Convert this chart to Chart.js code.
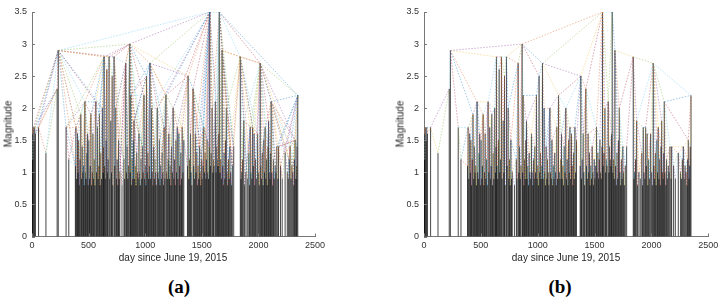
<!DOCTYPE html>
<html>
<head>
<meta charset="utf-8">
<script src="https://cdn.jsdelivr.net/npm/chart.js@4"></script>
<style>
  html, body { margin: 0; padding: 0; background: #fff; }
  body { width: 724px; height: 305px; position: relative; overflow: hidden; font-family: 'Liberation Sans', Arial, sans-serif; }
  canvas { position: absolute; top: 0; }
  .ylab { position: absolute; transform: translate(-50%, -50%) rotate(-90deg); font-size: 10px; color: #262626; white-space: nowrap; }
  .xlab { position: absolute; transform: translate(-50%, -50%); font-size: 10px; color: #262626; white-space: nowrap; }
  .cap { position: absolute; transform: translate(-50%, -50%); font-family: 'Liberation Serif', 'DejaVu Serif', serif; font-weight: bold; font-size: 19px; color: #000; }
</style>
</head>
<body>
<canvas id="chart-a" width="340" height="270" style="left:0;"></canvas>
<canvas id="chart-b" width="332" height="270" style="left:392px;"></canvas>

<div class="ylab" style="left:8px; top:124px;">Magnitude</div>
<div class="ylab" style="left:400px; top:124px;">Magnitude</div>
<div class="xlab" style="left:173px; top:257px;">day since June 19, 2015</div>
<div class="xlab" style="left:566px; top:257px;">day since June 19, 2015</div>
<div class="cap" style="left:179px; top:287px;">(a)</div>
<div class="cap" style="left:560px; top:287px;">(b)</div>

<script>
'use strict';

const days = [
  2, 6, 12, 18, 24, 30, 58, 123, 222, 232, 301, 325,
  383, 388, 394, 402, 407, 412, 418, 424, 431, 437, 443, 449, 455, 461, 467, 472, 478, 484, 490, 496,
  502, 508, 514, 520, 526, 532, 538, 544, 550, 556, 564, 570, 578, 584, 590, 596, 602, 608, 614, 622, 628, 632,
  637, 642, 648, 654, 661, 666, 672, 681, 687, 696, 702, 708, 714, 725, 731, 740, 746, 752, 758, 764, 770, 776, 795,
  812, 818, 828, 834, 840, 846, 852, 863, 868, 872, 878, 884, 890, 895, 901, 907, 913, 919, 925, 931, 938, 945, 951, 957, 963, 969, 975, 981, 989, 995,
  1001, 1006, 1012, 1018, 1024, 1030, 1036, 1042, 1048, 1056, 1062, 1068, 1074, 1080, 1086, 1092, 1098, 1107, 1113, 1119, 1125, 1131, 1137, 1143, 1150, 1156, 1162, 1168, 1174, 1183, 1190, 1196,
  1203, 1209, 1215, 1221, 1227, 1233, 1240, 1247, 1253, 1259, 1265, 1271, 1277, 1283, 1289, 1297, 1303, 1309, 1315, 1321, 1327, 1333, 1341,
  1373, 1379, 1385, 1391, 1400, 1406, 1412, 1423, 1429, 1436, 1443, 1449, 1455, 1461, 1467, 1473, 1479, 1485, 1491, 1497, 1503, 1510, 1517, 1523, 1529, 1535, 1541, 1547, 1553, 1559,
  1565, 1570, 1576, 1582, 1591, 1597, 1603, 1609, 1620, 1626, 1632, 1638, 1644, 1649, 1655, 1661, 1667, 1673, 1679, 1685, 1691, 1697, 1703, 1710, 1717, 1723, 1729, 1736, 1742, 1748, 1755, 1762, 1770, 1782,
  1840, 1846, 1852, 1860, 1870, 1878, 1890, 1902, 1915, 1922, 1928, 1935, 1942, 1949, 1955, 1962, 1968, 1975, 1982, 1993,
  2002, 2008, 2016, 2022, 2028, 2035, 2041, 2048, 2054, 2060, 2066, 2072, 2078, 2084, 2090, 2096, 2102, 2108, 2113, 2119, 2126, 2133, 2140, 2148, 2155, 2163, 2172, 2178,
  2195, 2210, 2236, 2255, 2264, 2272, 2280, 2288, 2296, 2304, 2312, 2318, 2324, 2330, 2336, 2341, 2348
];
const mags = [
  1.6, 1.2, 1.7, 1.5, 1.7, 1.6, 1.7, 1.3, 2.3, 2.9, 1.7, 1.2,
  1.1, 1.7, 0.9, 1.6, 1.0, 1.5, 0.8, 1.2, 1.9, 0.9, 1.4, 1.0, 1.1, 0.8, 2.1, 1.0, 0.9, 1.3, 1.6, 0.8,
  1.5, 0.9, 1.1, 1.9, 0.8, 1.0, 1.6, 0.9, 1.2, 0.8, 2.1, 1.0, 1.7, 0.9, 1.1, 1.9, 0.8, 1.3, 0.9, 2.0, 1.0, 1.4,
  2.8, 1.1, 0.9, 1.5, 2.6, 1.0, 1.2, 2.8, 0.9, 1.8, 1.0, 2.5, 0.8, 2.8, 1.1, 2.0, 0.9, 1.2, 0.8, 1.5, 0.9, 1.0, 0.8,
  1.2, 0.9, 2.7, 1.0, 1.4, 0.9, 1.1, 3.0, 1.0, 2.2, 0.8, 1.2, 0.9, 1.5, 1.8, 0.9, 1.1, 0.8, 1.3, 1.0, 0.9, 1.6, 1.0, 0.8, 1.2, 0.9, 1.4, 1.0, 2.2, 0.9,
  1.1, 0.8, 2.5, 1.0, 1.3, 0.9, 1.1, 2.7, 0.9, 2.0, 1.0, 0.8, 1.4, 0.9, 1.2, 1.0, 0.8, 2.0, 1.0, 0.9, 1.5, 0.8, 1.1, 0.9, 1.3, 1.0, 0.8, 1.7, 0.9, 2.2, 1.0, 0.9,
  1.2, 1.6, 0.9, 1.1, 0.8, 1.4, 1.0, 2.0, 0.9, 1.2, 0.8, 1.5, 1.0, 1.7, 0.9, 1.6, 1.1, 0.8, 1.3, 0.9, 1.7, 1.0, 1.5,
  1.1, 2.5, 0.9, 1.2, 1.6, 1.0, 0.8, 2.3, 1.1, 0.9, 1.6, 1.0, 1.3, 0.8, 1.1, 0.9, 1.4, 1.0, 0.8, 1.2, 0.9, 1.1, 1.7, 1.0, 1.3, 0.9, 1.2, 1.5, 1.0, 0.9,
  1.4, 3.5, 1.1, 1.3, 2.0, 1.0, 1.2, 1.1, 2.1, 1.0, 1.4, 1.2, 1.1, 1.6, 3.5, 1.0, 1.2, 0.9, 2.9, 1.1, 0.8, 1.3, 0.9, 1.5, 2.0, 1.0, 0.8, 1.2, 0.9, 1.4, 1.0, 0.8, 1.1, 1.4,
  2.8, 0.9, 1.0, 1.2, 1.8, 0.8, 1.0, 0.9, 1.3, 0.8, 1.7, 1.0, 0.9, 1.7, 1.1, 1.6, 0.8, 1.2, 0.9, 1.6,
  1.0, 0.8, 2.7, 1.1, 0.9, 1.3, 0.8, 1.5, 1.0, 1.7, 0.9, 1.2, 0.8, 1.4, 1.8, 1.0, 0.9, 1.3, 2.1, 1.0, 0.8, 1.2, 0.9, 1.1, 1.0, 1.4, 0.9, 1.4,
  1.1, 0.9, 1.3, 1.0, 0.9, 1.2, 1.4, 0.9, 1.1, 1.0, 0.8, 1.2, 1.5, 0.9, 1.1, 1.4, 2.2
];

const xTicks = [0, 500, 1000, 1500, 2000, 2500];
const yTicks = [0, 0.5, 1, 1.5, 2, 2.5, 3, 3.5];

// matlab default line order, used round-robin for the edges
const edgeColors = ['0,114,189', '217,83,25', '237,177,32', '126,47,142', '119,172,48', '77,190,238', '162,20,47'];

// (a) natural visibility: nothing in between rises above the straight line
function seesNatural(i, j) {
  for (let k = i + 1; k < j; k++) {
    const lim = mags[j] + (mags[i] - mags[j]) * (days[j] - days[k]) / (days[j] - days[i]);
    if (mags[k] >= lim) return false;
  }
  return true;
}

// (b) horizontal visibility: everything in between lower than both ends
function seesHorizontal(i, j) {
  const lim = Math.min(mags[i], mags[j]);
  for (let k = i + 1; k < j; k++) {
    if (mags[k] >= lim) return false;
  }
  return true;
}

const innerTicks = {
  id: 'innerTicks',
  afterDraw(chart) {
    const { ctx, chartArea, scales: { x, y } } = chart;
    ctx.save();
    ctx.strokeStyle = '#777';
    ctx.lineWidth = 1;
    ctx.beginPath();
    xTicks.forEach(v => {
      const px = Math.round(x.getPixelForValue(v)) + 0.5;
      ctx.moveTo(px, chartArea.bottom);
      ctx.lineTo(px, chartArea.bottom - 3);
    });
    yTicks.forEach(v => {
      const py = Math.round(y.getPixelForValue(v)) + 0.5;
      ctx.moveTo(chartArea.left, py);
      ctx.lineTo(chartArea.left + 3, py);
    });
    ctx.stroke();
    ctx.restore();
  },
};

function buildChart(id, sees, padRight) {
  const groups = edgeColors.map(() => []);
  let n = 0;
  for (let i = 0; i < days.length; i++) {
    for (let j = i + 1; j < days.length; j++) {
      if (!sees(i, j)) continue;
      const g = groups[n++ % edgeColors.length];
      g.push({ x: days[i], y: mags[i] }, { x: days[j], y: mags[j] }, { x: days[j], y: null });
    }
  }

  const stems = [];
  days.forEach((d, i) => {
    stems.push({ x: d, y: 0 }, { x: d, y: mags[i] }, { x: d, y: null });
  });

  const datasets = groups.map((g, c) => ({
    data: g,
    borderColor: `rgba(${edgeColors[c]},0.55)`,
    borderWidth: 0.7,
    borderDash: [1.5, 1.5],
  }));
  datasets.push({ data: stems, borderColor: 'rgba(0,0,0,0.72)', borderWidth: 1 });
  datasets.forEach(ds => {
    ds.pointRadius = 0;
    ds.spanGaps = false;
    ds.tension = 0;
    ds.fill = false;
  });

  const tickFont = { family: "'Liberation Sans', Arial, sans-serif", size: 9 };

  return new Chart(document.getElementById(id), {
    type: 'line',
    data: { datasets },
    plugins: [innerTicks],
    options: {
      responsive: false,
      animation: false,
      events: [],
      layout: { padding: { top: 12, right: padRight, bottom: 0, left: 0 } },
      plugins: { legend: { display: false }, tooltip: { enabled: false } },
      scales: {
        x: {
          type: 'linear',
          min: 0,
          max: 2500,
          afterBuildTicks: (s) => { s.ticks = xTicks.map(v => ({ value: v })); },
          afterFit: (s) => { s.height = 33.5; },
          grid: { display: false, drawTicks: false, tickLength: 0 },
          border: { color: '#777', width: 1 },
          ticks: { color: '#333', font: tickFont, padding: 4, maxRotation: 0, callback: (v) => String(v) },
        },
        y: {
          type: 'linear',
          min: 0,
          max: 3.5,
          afterBuildTicks: (s) => { s.ticks = yTicks.map(v => ({ value: v })); },
          afterFit: (s) => { s.width = 32; },
          grid: { display: false, drawTicks: false, tickLength: 0 },
          border: { color: '#777', width: 1 },
          ticks: { color: '#333', font: tickFont, padding: 5, callback: (v) => String(v) },
        },
      },
    },
  });
}

buildChart('chart-a', seesNatural, 25);
buildChart('chart-b', seesHorizontal, 15.7);
</script>
</body>
</html>
